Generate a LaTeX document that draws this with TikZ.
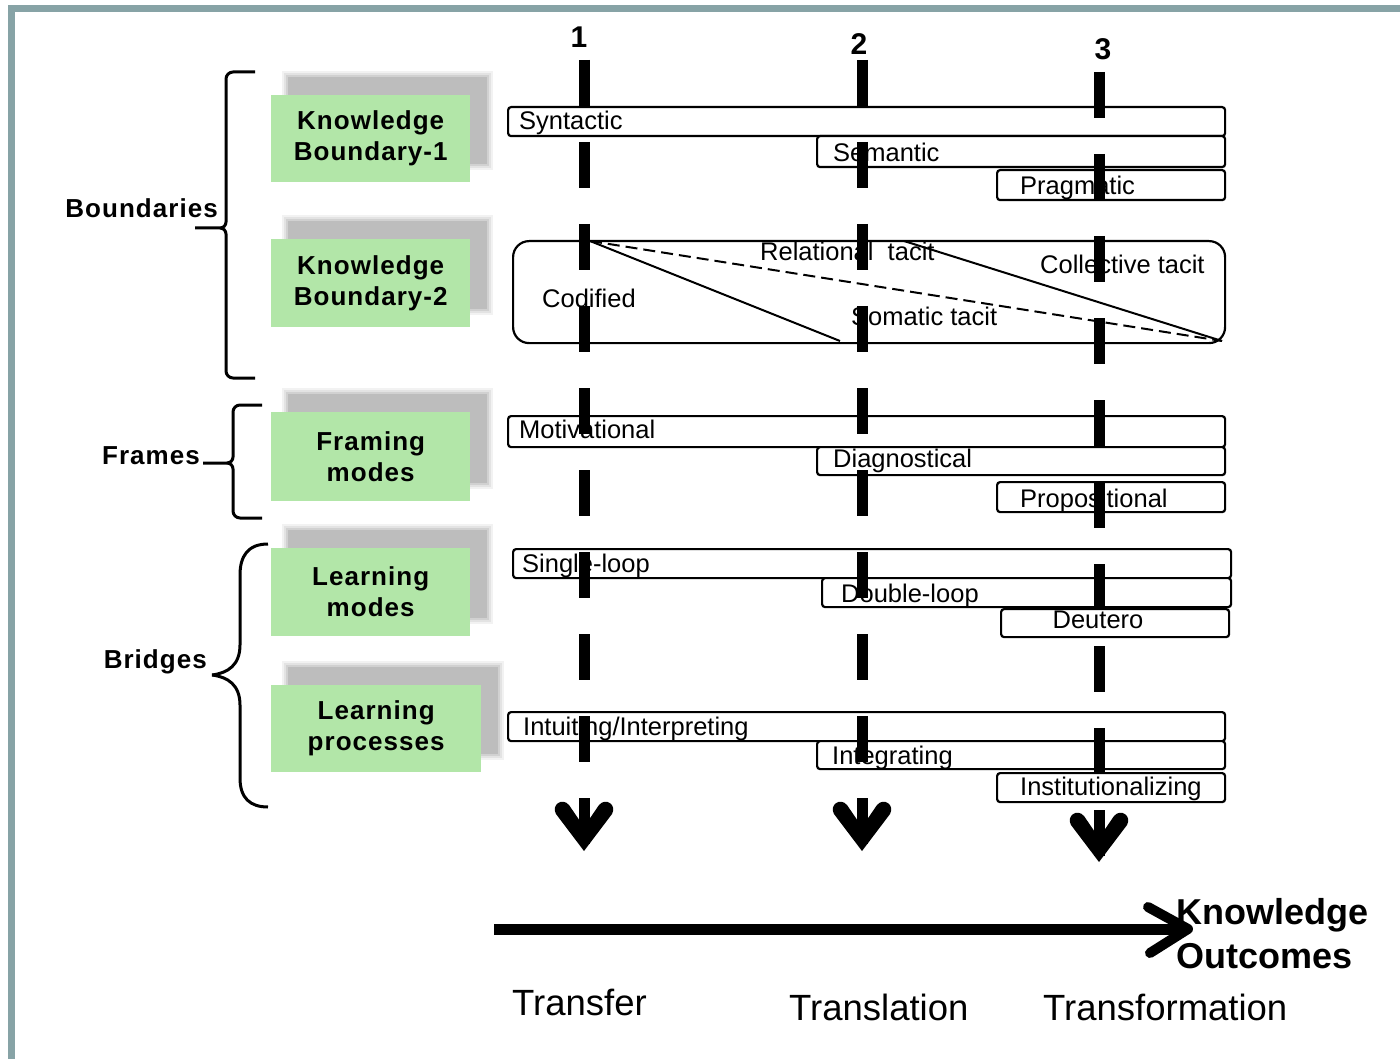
\documentclass[tikz,border=0pt]{standalone}
\usepackage{fontspec}
\setmainfont{Liberation Sans}
\newfontfamily\boxfont{Liberation Sans}[LetterSpace=4]
\usetikzlibrary{calc}
\definecolor{framecol}{RGB}{135,163,166}
\definecolor{boxgreen}{RGB}{178,230,168}
\newcommand\softshadow[4]{%
  \fill[gray!10] (#1-6,#2-6) rectangle (#3+6,#4+6);
  \fill[gray!22] (#1-4,#2-4) rectangle (#3+4,#4+4);
  \fill[gray!36] (#1-2,#2-2) rectangle (#3+2,#4+2);
  \fill[gray!52] (#1,#2) rectangle (#3,#4);}
\tikzset{
  band/.style={draw=black, line width=2.2pt, rounded corners=3pt, fill=white, anchor=north west, inner sep=0pt},
  bandtext/.style={anchor=base west, inner sep=0pt, font=\fontsize{25.5}{30}\selectfont},
  greenbox/.style={fill=boxgreen, inner sep=0pt, align=center, anchor=north west, font=\boxfont\bfseries\fontsize{26}{31}\selectfont},
  sidelabel/.style={anchor=east, inner sep=0pt, font=\boxfont\bfseries\fontsize{26}{31}\selectfont},
  numlabel/.style={inner sep=0pt, font=\bfseries\fontsize{30}{34}\selectfont},
  outlabel/.style={anchor=base west, inner sep=0pt, font=\fontsize{36.5}{40}\selectfont},
  vbar/.style={line width=11pt, dash pattern=on 46pt off 36pt},
  brace/.style={line width=3pt},
  diag/.style={line width=2pt},
  diagdash/.style={line width=2pt, dash pattern=on 12pt off 6pt},
  downhead/.pic={\fill (0,0) -- (-28,-37) .. controls (-33,-46) and (-22,-54) .. (-15,-46) -- (0,-24) -- (15,-46) .. controls (22,-54) and (33,-46) .. (28,-37) -- cycle;},
}
\begin{document}
\begin{tikzpicture}[x=1pt,y=-1pt]
\useasboundingbox (0,0) rectangle (1400,1059);
\fill[white] (0,0) rectangle (1400,1059);
% frame
\fill[framecol] (8,5) rectangle (1400,12);
\fill[framecol] (8,5) rectangle (15,1059);

% shadows
\softshadow{288}{77}{487}{164}
\softshadow{288}{221}{487}{309}
\softshadow{288}{394}{487}{483}
\softshadow{288}{530}{487}{618}
\softshadow{288}{667}{498}{754}

% green boxes
\node[greenbox, minimum width=199pt, minimum height=87pt] (kb1) at (271,95) {Knowledge\\Boundary-1};
\node[greenbox, minimum width=199pt, minimum height=88pt] (kb2) at (271,239) {Knowledge\\Boundary-2};
\node[greenbox, minimum width=199pt, minimum height=89pt] (fm) at (271,412) {Framing\\modes};
\node[greenbox, minimum width=199pt, minimum height=88pt] (lm) at (271,548) {Learning\\modes};
\node[greenbox, minimum width=210pt, minimum height=87pt] (lp) at (271,685) {Learning\\processes};

% side labels and braces
\node[sidelabel] (bnd) at (218,208) {Boundaries};
\node[sidelabel] (frm) at (200,456) {Frames};
\node[sidelabel] (brg) at (207,662) {Bridges};

\draw[brace] (255,72) -- (233,72) to[out=180,in=90] (226,79) -- (226,222) to[out=-90,in=0] (220,228) -- (195,228);
\draw[brace] (220,228) to[out=0,in=90] (226,234) -- (226,371) to[out=-90,in=180] (233,378) -- (255,378);
\draw[brace] (262,405) -- (240,405) to[out=180,in=90] (233,412) -- (233,457) to[out=-90,in=0] (227,463) -- (203,463);
\draw[brace] (227,463) to[out=0,in=90] (233,469) -- (233,511) to[out=-90,in=180] (240,518) -- (262,518);
\draw[brace] (268,544) .. controls (248,544) and (240,556) .. (240,575) -- (240,645) .. controls (240,665) and (228,673) .. (212,675);
\draw[brace] (212,675) .. controls (228,677) and (240,685) .. (240,705) -- (240,778) .. controls (240,798) and (250,807) .. (268,807);

% bands
\node[band, minimum width=717pt, minimum height=29pt] (syn) at (507,106) {};
\node[band, minimum width=408pt, minimum height=31pt] (sem) at (816,135) {};
\node[band, minimum width=228pt, minimum height=30pt] (prag) at (996,169) {};
\node[band, rounded corners=16pt, minimum width=712pt, minimum height=102pt] (tacit) at (512,240) {};
\node[band, minimum width=717pt, minimum height=31pt] (mot) at (507,415) {};
\node[band, minimum width=408pt, minimum height=28pt] (diagn) at (816,446) {};
\node[band, minimum width=228pt, minimum height=30pt] (prop) at (996,481) {};
\node[band, minimum width=718pt, minimum height=29pt] (sing) at (512,548) {};
\node[band, minimum width=409pt, minimum height=29pt] (dbl) at (821,577) {};
\node[band, minimum width=228pt, minimum height=28pt] (deut) at (1000,608) {};
\node[band, minimum width=717pt, minimum height=29pt] (intu) at (507,711) {};
\node[band, minimum width=408pt, minimum height=28pt] (integ) at (816,740) {};
\node[band, minimum width=228pt, minimum height=29pt] (inst) at (996,772) {};

% band texts
\node[bandtext] (tsyn) at (519,130) {Syntactic};
\node[bandtext] (tsem) at (833,162) {Semantic};
\node[bandtext] (tprag) at (1020,195) {Pragmatic};
\node[bandtext] (trel) at (760,261) {Relational\ \ tacit};
\node[bandtext] (tcol) at (1040,274) {Collective tacit};
\node[bandtext] (tcod) at (542,308) {Codified};
\node[bandtext] (tsom) at (851,326) {Somatic tacit};
\node[bandtext] (tmot) at (519,438) {Motivational};
\node[bandtext] (tdia) at (833,467) {Diagnostical};
\node[bandtext] (tpro) at (1020,507) {Propositional};
\node[bandtext] (tsin) at (522,572) {Single-loop};
\node[bandtext] (tdbl) at (841,602) {Double-loop};
\node[bandtext, anchor=base] (tdeu) at (1098,628) {Deutero};
\node[bandtext] (tint) at (523,735) {Intuiting/Interpreting};
\node[bandtext] (tigr) at (832,764) {Integrating};
\node[bandtext] (tins) at (1020,795) {Institutionalizing};

% tacit diagonals
\coordinate (tA) at (590,241);
\coordinate (tB) at (840,341);
\coordinate (tC) at (1222,341);
\coordinate (tD) at (904,241);
\draw[diag] (tA) -- (tB);
\draw[diagdash] (tA) -- (tC);
\draw[diag] (tD) -- (tC);

% numbers
\node[numlabel] (n1) at (579,37) {1};
\node[numlabel] (n2) at (859,44) {2};
\node[numlabel] (n3) at (1103,49) {3};

% vertical dashed bars
\coordinate (top1) at (584,60);
\coordinate (end1) at (584,844);
\coordinate (top2) at (862,60);
\coordinate (end2) at (862,844);
\coordinate (top3) at (1099,72);
\coordinate (end3) at (1099,856);
\draw[vbar] (top1) -- (end1);
\draw[vbar] (top2) -- (end2);
\draw[vbar] (top3) -- (end3);
\pic at (584,851) {downhead};
\pic at (862,851) {downhead};
\pic at (1099,862) {downhead};

% horizontal arrow
\coordinate (hs) at (494,929);
\coordinate (he) at (1182,929);
\draw[line width=11pt] (hs) -- (he);
\draw[line width=10pt, line cap=round, line join=round] ($(he)+(-34,-22)$) -- ($(he)+(6,0)$) -- ($(he)+(-32,24)$);
\node[anchor=west, align=left, inner sep=0pt, font=\bfseries\fontsize{36}{44}\selectfont] (ko) at (1176,934) {Knowledge\\Outcomes};

% bottom labels
\node[outlabel] (ltr) at (512,1015) {Transfer};
\node[outlabel] (ltl) at (789,1020) {Translation};
\node[outlabel] (ltf) at (1043,1020) {Transformation};
\end{tikzpicture}
\end{document}
